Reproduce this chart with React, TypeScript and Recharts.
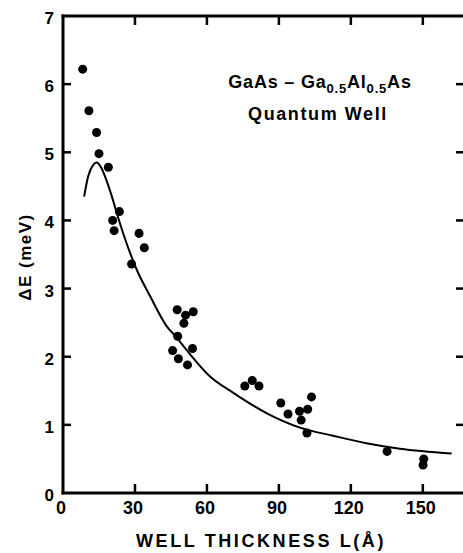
import { ComposedChart, Line, Scatter, XAxis, YAxis } from 'recharts';

// measured points, L (Å) vs ΔE (meV)
const pointL = [8.2, 10.8, 14, 15, 18.9, 23.5, 20.7, 21.3, 31.7, 33.9, 28.6,
  47.6, 51.1, 54.3, 50.4, 47.8, 45.7, 54, 48.1, 51.9,
  75.8, 78.9, 81.7, 90.8, 93.8, 98.6, 102, 103.6, 99.3, 101.7,
  135.1, 150.4, 150.1];
const pointE = [6.22, 5.61, 5.29, 4.98, 4.78, 4.13, 4.0, 3.85, 3.81, 3.6, 3.36,
  2.69, 2.61, 2.66, 2.49, 2.3, 2.09, 2.12, 1.97, 1.88,
  1.57, 1.65, 1.57, 1.32, 1.16, 1.2, 1.23, 1.41, 1.07, 0.88,
  0.61, 0.5, 0.41];

// theory curve
const curveL = [8.8, 10.5, 12.5, 14, 16, 18, 20.3, 22.4, 25, 30.7, 36.3, 43.2, 47.4, 51.5, 61.3, 71, 85, 98.8, 112.6, 126.5, 140.4, 162];
const curveE = [4.35, 4.65, 4.81, 4.85, 4.77, 4.6, 4.36, 4.11, 3.82, 3.28, 2.89, 2.45, 2.28, 2.1, 1.71, 1.47, 1.17, 0.96, 0.84, 0.73, 0.65, 0.58];

const xTicks = [0, 30, 60, 90, 120, 150];
const yTicks = [0, 1, 2, 3, 4, 5, 6, 7];
const X_MAX = 168;
const Y_MAX = 7;

const points = pointL.map((x, i) => ({ x, y: pointE[i] }));
const curve = curveL.map((x, i) => ({ x, y: curveE[i] }));

const FONT = '"Liberation Sans", Arial, sans-serif';
const TOP = 16;
const LEFT = 63;
const W = 466;
const H = 553;
const XH = 60;
const BOTTOM = H - XH;

function XTick({ x, y, payload }: any) {
  return (
    <text x={x - 2} y={y + 21} textAnchor="middle" fontFamily={FONT} fontWeight="bold" fontSize={18} fill="#000">{payload.value}</text>
  );
}

function YTick({ x, y, payload }: any) {
  return (
    <text x={x - 9} y={y + 2} dy="0.35em" textAnchor="end" fontFamily={FONT} fontWeight="bold" fontSize={17} fill="#000">{payload.value}</text>
  );
}

// frame and inward ticks as filled bars
const px = (v: number) => LEFT + (v / X_MAX) * (W - LEFT);
const py = (v: number) => BOTTOM - (v / Y_MAX) * (BOTTOM - TOP);
const bars: { x: number; y: number; w: number; h: number }[] = [
  { x: LEFT - 1.5, y: TOP - 1.5, w: W - LEFT + 3, h: 3 },
  { x: LEFT - 1.5, y: BOTTOM - 1.5, w: W - LEFT + 3, h: 3 },
  { x: LEFT - 1.5, y: TOP - 1.5, w: 3, h: BOTTOM - TOP + 3 },
  { x: W - 1.5, y: TOP - 1.5, w: 3, h: BOTTOM - TOP + 3 },
];
xTicks.filter((v) => v > 0).forEach((v) => {
  bars.push({ x: px(v) - 1.25, y: BOTTOM - 9, w: 2.5, h: 9 });
  bars.push({ x: px(v) - 1.25, y: TOP, w: 2.5, h: 9 });
});
yTicks.filter((v) => v > 0 && v < Y_MAX).forEach((v) => {
  bars.push({ x: LEFT, y: py(v) - 1.25, w: 8, h: 2.5 });
  bars.push({ x: W - 10, y: py(v) - 1.25, w: 10, h: 2.5 });
});

export default function App() {
  return (
    <div style={{ position: 'absolute', left: 0, top: 0, width: 463, height: 553, overflow: 'hidden', background: '#fff' }}>
      <ComposedChart width={W} height={H} margin={{ top: TOP, right: 0, left: 0, bottom: 0 }}>
        <XAxis
          type="number"
          dataKey="x"
          domain={[0, X_MAX]}
          ticks={xTicks}
          height={XH}
          axisLine={false}
          tickLine={false}
          tickSize={0}
          tickMargin={0}
          tick={<XTick />}
        />
        <YAxis
          type="number"
          dataKey="y"
          domain={[0, Y_MAX]}
          ticks={yTicks}
          width={LEFT}
          axisLine={false}
          tickLine={false}
          tickSize={0}
          tickMargin={0}
          tick={<YTick />}
        />
        <Line data={curve} dataKey="y" type="monotone" stroke="#000" strokeWidth={2} dot={false} isAnimationActive={false} />
        <Scatter data={points} dataKey="y" fill="#000" isAnimationActive={false} />
        <text x={261} y={H - 6} textAnchor="middle" fontFamily={FONT} fontWeight="bold" fontSize={18} letterSpacing={2.6} fill="#000">
          WELL  THICKNESS  L(Å)
        </text>
        <text x={25} y={257} transform="rotate(-90 25 257)" textAnchor="middle" dominantBaseline="central" fontFamily={FONT} fontWeight="bold" fontSize={17} letterSpacing={1.5} fill="#000">
          ΔE  (meV)
        </text>
        <text x={320} y={88} textAnchor="middle" fontFamily={FONT} fontWeight="bold" fontSize={18} letterSpacing={0.8} fill="#000">
          GaAs – Ga<tspan fontSize={13} dy={5}>0.5</tspan><tspan dy={-5}>Al</tspan><tspan fontSize={13} dy={5}>0.5</tspan><tspan dy={-5}>As</tspan>
        </text>
        <text x={318} y={120} textAnchor="middle" fontFamily={FONT} fontWeight="bold" fontSize={18} letterSpacing={1.6} fill="#000">
          Quantum  Well
        </text>
        <g>
          {bars.map((b, i) => (
            <rect key={i} x={b.x} y={b.y} width={b.w} height={b.h} fill="#000" />
          ))}
        </g>
      </ComposedChart>
    </div>
  );
}
